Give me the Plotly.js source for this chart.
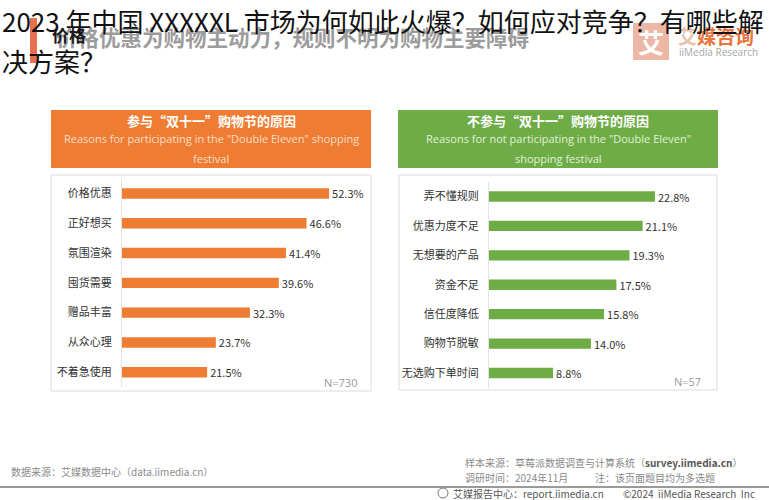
<!DOCTYPE html>
<html>
<head>
<meta charset="utf-8">
<script src="https://cdn.plot.ly/plotly-3.0.1.min.js"></script>
<style>html,body{margin:0;padding:0;background:#fff;}#chart{width:769px;height:500px;}</style>
</head>
<body>
<div id="chart"></div>
<script>
// ---- data ----
const leftCategories = ['价格优惠','正好想买','氛围渲染','囤货需要','赠品丰富','从众心理','不着急使用'];
const leftValues = [52.3, 46.6, 41.4, 39.6, 32.3, 23.7, 21.5];
const rightCategories = ['弄不懂规则','优惠力度不足','无想要的产品','资金不足','信任度降低','购物节脱敏','无选购下单时间'];
const rightValues = [22.8, 21.1, 19.3, 17.5, 15.8, 14.0, 8.8];
const leftSampleLabel = 'N=730';
const rightSampleLabel = 'N=57';

const titleLine1 = '2023 年中国 XXXXXL 市场为何如此火爆？如何应对竞争？有哪些解';
const titleLine2 = '决方案？';
const subtitle = '价格优惠为购物主动力，规则不明为购物主要障碍';
const leftHeaderCn = '参与“双十一”购物节的原因';
const leftHeaderEn1 = 'Reasons for participating in the "Double Eleven" shopping';
const leftHeaderEn2 = 'festival';
const rightHeaderCn = '不参与“双十一”购物节的原因';
const rightHeaderEn1 = 'Reasons for not participating in the "Double Eleven"';
const rightHeaderEn2 = 'shopping festival';

// ---- helpers (pixel -> paper) ----
const W = 769, H = 500;
const X = p => p / W;
const Y = p => 1 - p / H;
const CJK = '"Noto Sans CJK SC", "Noto Sans", sans-serif';

const ORANGE = '#EE7D33';
const GREEN = '#6EAC46';

const traces = [
  {
    type: 'bar', orientation: 'h',
    x: leftValues, y: leftCategories,
    xaxis: 'x', yaxis: 'y',
    marker: {color: ORANGE},
    width: 0.35,
    text: leftValues, texttemplate: '%{x:.1f}%', textposition: 'outside',
    constraintext: 'none',
    textfont: {family: CJK, size: 11, color: '#333'},
    cliponaxis: false, hoverinfo: 'none'
  },
  {
    type: 'bar', orientation: 'h',
    x: rightValues, y: rightCategories,
    xaxis: 'x2', yaxis: 'y2',
    marker: {color: GREEN},
    width: 0.35,
    text: rightValues, texttemplate: '%{x:.1f}%', textposition: 'outside',
    constraintext: 'none',
    textfont: {family: CJK, size: 11, color: '#333'},
    cliponaxis: false, hoverinfo: 'none'
  }
];

function rect(x0, y0, x1, y1, fill, line, lw) {
  return {type: 'rect', xref: 'paper', yref: 'paper', layer: 'below',
    x0: X(x0), x1: X(x1), y0: Y(y1), y1: Y(y0),
    fillcolor: fill, line: {color: line || 'rgba(0,0,0,0)', width: lw || 0}};
}
function ann(text, x, y, opts) {
  return Object.assign({xref: 'paper', yref: 'paper', x: X(x), y: Y(y), text: text,
    showarrow: false, xanchor: 'center', yanchor: 'middle',
    font: {family: CJK, size: 11, color: '#333'}}, opts || {});
}

const shapes = [
  rect(51, 110, 371, 168, ORANGE),
  rect(51, 175, 371, 391, '#ffffff', '#dcdcdc', 1),
  rect(398, 110, 718, 168, GREEN),
  rect(399, 175, 717, 390, '#ffffff', '#dcdcdc', 1),
  rect(30, 18, 37, 63, '#E5714F'),
  rect(633, 23, 669, 60, '#EDB7A6'),
  {type: 'line', xref: 'paper', yref: 'paper', x0: 0, x1: 1, y0: Y(487), y1: Y(487),
    line: {color: '#9a9a9a', width: 2}},
  {type: 'circle', xref: 'paper', yref: 'paper', x0: X(438), x1: X(448), y0: Y(498), y1: Y(488),
    line: {color: '#777', width: 1}}
];

const annotations = [
  // background page subtitle
  ann(subtitle, 54, 37, {xanchor: 'left', font: {family: CJK, size: 21.5, color: '#9c9c9c', weight: 'bold'}}),
  ann('价格', 50, 34, {xanchor: 'left', font: {family: CJK, size: 17, color: '#1a1a1a', weight: 'bold'}}),
  // logo
  ann('艾', 651, 42, {font: {family: CJK, size: 26, color: '#ffffff', weight: 'bold'}}),
  ann('艾<span style="color:#E8763E">媒咨询</span>', 676, 35, {xanchor: 'left', font: {family: CJK, size: 19, color: '#E7C2AE', weight: 'bold'}}),
  ann('iiMedia Research', 677, 52, {xanchor: 'left', font: {family: 'Open Sans, sans-serif', size: 10, color: '#a8a8a8'}}),
  // headers
  ann(leftHeaderCn, 211, 120, {font: {family: CJK, size: 13, color: '#ffffff', weight: 'bold'}}),
  ann(leftHeaderEn1, 211, 138, {font: {family: 'Open Sans, sans-serif', size: 11, color: '#FBDCC6'}}),
  ann(leftHeaderEn2, 211, 158, {font: {family: 'Open Sans, sans-serif', size: 11, color: '#FBDCC6'}}),
  ann(rightHeaderCn, 558, 120, {font: {family: CJK, size: 13, color: '#ffffff', weight: 'bold'}}),
  ann(rightHeaderEn1, 558, 138, {font: {family: 'Open Sans, sans-serif', size: 11, color: '#E2F0D8'}}),
  ann(rightHeaderEn2, 558, 158, {font: {family: 'Open Sans, sans-serif', size: 11, color: '#E2F0D8'}}),
  // sample sizes
  ann(leftSampleLabel, 340, 382, {font: {family: 'Open Sans, sans-serif', size: 11, color: '#9a9a9a'}}),
  ann(rightSampleLabel, 687, 381, {font: {family: 'Open Sans, sans-serif', size: 11, color: '#9a9a9a'}}),
  // footer
  ann('数据来源：艾媒数据中心（data.iimedia.cn）', 9, 471, {xanchor: 'left', font: {family: CJK, size: 10, color: '#8a8a8a'}}),
  ann('样本来源：草莓派数据调查与计算系统（<b style="color:#555">survey.iimedia.cn</b>）', 463, 462, {xanchor: 'left', font: {family: CJK, size: 10, color: '#8a8a8a'}}),
  ann('调研时间：2024年11月', 463, 477, {xanchor: 'left', font: {family: CJK, size: 10, color: '#8a8a8a'}}),
  ann('注：该页面题目均为多选题', 593, 477, {xanchor: 'left', font: {family: CJK, size: 10, color: '#8a8a8a'}}),
  ann('艾媒报告中心：report.iimedia.cn', 451, 493, {xanchor: 'left', font: {family: CJK, size: 10, color: '#555'}}),
  ann('©2024  iiMedia Research  Inc', 757, 493, {xanchor: 'right', font: {family: CJK, size: 10, color: '#555'}}),
  // overlaid big title
  ann(titleLine1, 0, 20, {xanchor: 'left', font: {family: CJK, size: 26, color: '#111'}}),
  ann(titleLine2, 0, 60, {xanchor: 'left', font: {family: CJK, size: 26, color: '#111'}})
];

const yCommon = {
  type: 'category', autorange: 'reversed', showline: true, linecolor: '#e3e3e3', linewidth: 1,
  ticks: '', showgrid: false, zeroline: false, ticklabelstandoff: 7,
  tickfont: {family: CJK, size: 11, color: '#333'}, fixedrange: true
};
const xCommon = {visible: false, showgrid: false, zeroline: false, fixedrange: true};

const layout = {
  width: W, height: H,
  margin: {l: 0, r: 0, t: 0, b: 0, pad: 0},
  paper_bgcolor: '#ffffff', plot_bgcolor: 'rgba(0,0,0,0)',
  showlegend: false,
  xaxis: Object.assign({}, xCommon, {domain: [X(122), X(122 + 60 * 3.96)], range: [0, 60], anchor: 'y'}),
  yaxis: Object.assign({}, yCommon, {domain: [Y(387.1), Y(178.6)], anchor: 'x'}),
  xaxis2: Object.assign({}, xCommon, {domain: [X(489), X(489 + 30 * 7.28)], range: [0, 30], anchor: 'y2'}),
  yaxis2: Object.assign({}, yCommon, {domain: [Y(387.7), Y(181.8)], anchor: 'x2'}),
  shapes: shapes,
  annotations: annotations
};

Plotly.newPlot('chart', traces, layout, {displayModeBar: false, staticPlot: true});
</script>
</body>
</html>
